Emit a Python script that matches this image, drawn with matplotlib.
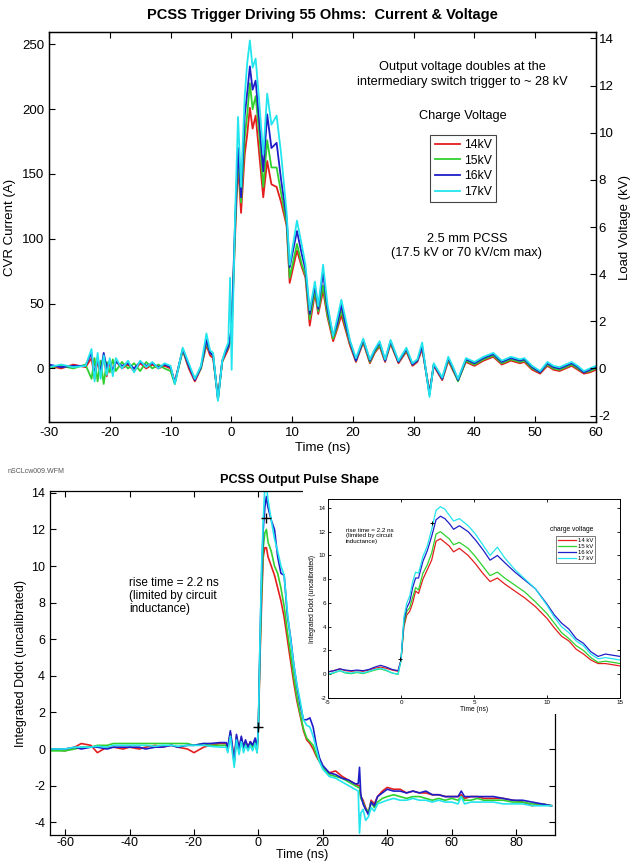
import matplotlib
matplotlib.use('Agg')
import matplotlib.pyplot as plt
from matplotlib.patches import Rectangle

plt.rcParams['font.family'] = ['Liberation Sans', 'DejaVu Sans']
plt.rcParams['axes.unicode_minus'] = False

# ------------------------------------------------------------------ data
labels_top = ['14kV', '15kV', '16kV', '17kV']
labels_inset = ['14 kV', '15 kV', '16 kV', '17 kV']
colors = ['#e31e1e', '#2fd12f', '#1e1ec8', '#22e5ee']

# top panel: CVR current (A) vs time (ns)
t_top = [-30, -28, -26, -24, -23, -22.5, -22, -21.5, -21, -20.5,
         -20, -19.5, -19, -18, -17, -16, -15, -14, -13, -12,
         -11, -10, -9.3, -8, -7, -6, -5, -4.1, -3.5, -3,
         -2.2, -1.5, -1, -0.5, -0.2, 0.05, 0.6, 1.1, 1.6, 2.2,
         2.6, 3.05, 3.5, 4.0, 4.6, 5.25, 5.9, 6.6, 7.45, 8.2,
         9.1, 9.6, 10.8, 11.6, 12.2, 12.9, 13.75, 14.3, 15.1, 15.8,
         16.75, 17.4, 18.1, 18.9, 19.5, 20.5, 21.7, 22.8, 23.6, 24.4,
         25.3, 26.2, 27.5, 28.8, 29.8, 30.6, 31.4, 32.6, 33.3, 34.7,
         35.7, 36.5, 37.3, 38.6, 40.0, 41.5, 43.1, 44.5, 46.0, 47.5,
         48.2, 49.5, 50.8, 52.0, 53.0, 54.0, 55.0, 56.0, 57.0, 58.0,
         59.0, 60.0]
cur_14 = [2, 0, 3, 1, 8, -8, 6, -5, 10, -6,
          5, -4, 6, 0, 3, -2, 4, 0, 3, 0,
          2, 0, -10, 14, 0, -10, 0, 18, 10, 8,
          -22, 5, 10, 15, 20, 28, 100, 158, 120, 165,
          180, 201, 185, 195, 165, 132, 160, 142, 140, 128,
          110, 66, 91, 78, 70, 33, 58, 42, 60, 40,
          21, 30, 41, 28, 18, 5, 20, 4, 12, 17,
          5, 19, 4, 13, 2, 5, 15, -18, 2, -9,
          6, -2, -9, 5, 2, 6, 9, 3, 6, 4,
          5, -1, -4, 2, -1, -2, 0, 2, -1, -4,
          -3, -1]
cur_15 = [1, 2, 0, 3, -8, 8, -10, 6, -12, 5,
          -3, 7, -2, 5, 0, 4, -2, 5, 0, 3,
          0, -2, -12, 14, 2, -8, 0, 20, 12, 10,
          -24, 5, 12, 16, 22, 30, 105, 165, 128, 178,
          195, 220, 200, 210, 180, 140, 176, 155, 155, 135,
          112, 70, 96, 80, 72, 38, 60, 44, 64, 42,
          23, 32, 45, 30, 20, 6, 21, 5, 13, 18,
          6, 20, 5, 14, 3, 6, 17, -20, 3, -8,
          7, -1, -10, 6, 3, 7, 10, 4, 7, 5,
          6, 0, -3, 3, 0, -1, 1, 3, 0, -3,
          -2, 0]
cur_16 = [3, 1, 2, 2, 12, -5, 8, -3, 12, 0,
          6, -2, 5, 2, 4, 0, 5, 2, 4, 1,
          3, 1, -11, 15, 2, -9, 1, 22, 12, 10,
          -24, 6, 12, 17, 24, 32, 110, 170, 132, 195,
          212, 233, 215, 222, 190, 152, 196, 170, 174, 145,
          116, 78, 106, 88, 76, 42, 64, 46, 74, 46,
          25, 34, 49, 32, 21, 6, 22, 6, 14, 20,
          6, 21, 5, 15, 3, 6, 17, -20, 3, -8,
          8, 0, -9, 7, 4, 8, 11, 5, 8, 6,
          7, 1, -3, 4, 1, 0, 2, 4, 1, -3,
          -1, 1]
cur_17 = [1, 3, 1, 2, 15, -10, 12, -8, 10, -5,
          8, -6, 8, 0, 6, -3, 6, 1, 5, 0,
          4, 2, -12, 16, 4, -8, 2, 27, 14, 12,
          -25, 6, 14, 20, 70, -1, 114, 194, 140, 210,
          235, 253, 232, 239, 205, 165, 212, 188, 195, 165,
          120, 80, 114, 95, 80, 45, 67, 48, 80, 50,
          25, 38, 53, 36, 22, 8, 23, 7, 15, 21,
          7, 22, 6, 16, 4, 7, 20, -22, 4, -7,
          9, 1, -8, 8, 5, 9, 12, 6, 9, 7,
          8, 2, -2, 5, 2, 1, 3, 5, 2, -2,
          0, 2]
load_ohms = 55.0  # right axis: kV = A * 55 / 1000

# bottom panel: integrated Ddot vs time (ns)
t_pulse = [-65, -60, -57, -55, -52, -50, -47, -45, -42, -40,
           -37, -35, -32, -30, -27, -25, -22, -20, -17, -15,
           -12, -10, -9.5, -8.7, -7.5, -6.8, -6.0, -5.3, -4.6, -4.0,
           -3.2, -2.5, -1.8, -1.0, -0.4, 0.0, 0.5, 1.0, 1.5, 2.0,
           2.5, 3.0, 4.0, 5.0, 6.0, 7.0, 8.0, 9.0, 10.0, 11.0,
           12.0, 13.0, 14.0, 15.0, 16.0, 17.0, 18.0, 19.0, 20.0, 22.0,
           24.0, 26.0, 28.0, 30.0, 31.0, 31.4, 31.8, 32.5, 33.3, 34.2,
           35.0, 36.0, 37.0, 38.5, 40.0, 42.0, 44.0, 46.0, 48.0, 50.0,
           52.0, 54.0, 56.0, 58.0, 60.0, 62.0, 63.0, 64.0, 66.0, 68.0,
           70.0, 73.0, 76.0, 79.0, 82.0, 85.0, 88.0, 91.0]
d_14 = [0.0, -0.1, 0.1, 0.3, 0.2, -0.2, 0.1, 0.1, 0.0, 0.1,
        0.0, 0.1, 0.2, 0.1, 0.2, 0.1, 0.0, -0.2, 0.1, 0.2,
        0.3, 0.3, 0.0, 0.9, -0.6, 0.7, 0.0, 0.6, 0.1, 0.4,
        0.1, 0.4, 0.2, 0.5, -0.1, 1.2, 5.0, 8.0, 10.5, 11.0,
        11.0, 10.5, 10.0, 9.5, 8.8, 8.1, 7.2, 6.0, 4.8, 3.6,
        2.6, 1.8, 1.0, 0.5, 0.3, 0.0, -0.4, -0.7, -1.0, -1.3,
        -1.2, -1.5, -1.7, -1.9, -2.0, -2.0, -2.6, -2.8, -3.2, -3.5,
        -2.8, -3.0, -2.6, -2.3, -2.1, -2.2, -2.2, -2.4, -2.3, -2.4,
        -2.4, -2.5, -2.5, -2.6, -2.6, -2.6, -2.5, -2.7, -2.6, -2.6,
        -2.7, -2.7, -2.7, -2.8, -2.9, -3.1, -3.0, -3.1]
d_15 = [-0.1, -0.1, 0.0, 0.1, 0.1, 0.2, 0.2, 0.3, 0.3, 0.3,
        0.3, 0.3, 0.3, 0.3, 0.3, 0.3, 0.3, 0.2, 0.3, 0.2,
        0.2, 0.2, -0.1, 0.8, -0.8, 0.6, -0.2, 0.5, -0.1, 0.3,
        0.0, 0.3, 0.0, 0.4, -0.2, 1.2, 5.3, 8.5, 11.0, 11.8,
        12.0, 11.3, 10.8, 10.0, 9.6, 8.8, 7.8, 6.4, 5.2, 3.9,
        2.8, 1.9, 1.1, 0.6, 0.4, 0.2, -0.3, -0.7, -1.0, -1.4,
        -1.5, -1.6, -1.8, -2.0, -2.1, -2.1, -2.7, -2.9, -3.3, -3.4,
        -2.9, -3.2, -2.9, -2.7, -2.6, -2.5, -2.6, -2.7, -2.6, -2.6,
        -2.7, -2.8, -2.7, -2.8, -2.7, -2.8, -2.6, -2.8, -2.8, -2.7,
        -2.8, -2.8, -2.8, -2.9, -2.9, -3.0, -3.0, -3.1]
d_16 = [0.0, 0.0, 0.1, 0.0, 0.1, 0.1, 0.0, 0.1, 0.1, 0.1,
        0.1, 0.0, 0.1, 0.1, 0.2, 0.1, 0.2, 0.2, 0.3, 0.3,
        0.35, 0.35, 0.1, 1.0, -0.7, 0.8, 0.0, 0.7, 0.1, 0.5,
        0.1, 0.4, 0.2, 0.6, 0.1, 1.2, 5.8, 9.5, 12.0, 13.2,
        13.8, 13.2, 12.5, 12.0, 10.5, 9.6, 9.5, 7.3, 6.1, 4.6,
        3.4, 2.4, 1.6, 1.6, 1.7, 1.2, 0.2, -0.5, -0.9, -1.3,
        -1.4, -1.6, -1.7, -1.9, -1.9, -1.0, -2.5, -3.0, -3.3, -3.6,
        -2.9, -3.1, -2.6, -2.4, -2.2, -2.3, -2.3, -2.4, -2.3, -2.4,
        -2.3, -2.5, -2.5, -2.6, -2.6, -2.6, -2.3, -2.6, -2.6, -2.6,
        -2.6, -2.6, -2.7, -2.8, -2.8, -2.9, -3.0, -3.1]
d_17 = [0.0, 0.0, 0.1, 0.1, 0.1, 0.15, 0.1, 0.2, 0.2, 0.2,
        0.2, 0.2, 0.15, 0.2, 0.2, 0.15, 0.2, 0.2, 0.2, 0.15,
        0.1, 0.1, -0.2, 0.7, -1.0, 0.5, -0.3, 0.4, -0.2, 0.2,
        -0.1, 0.2, -0.1, 0.3, -0.2, 1.2, 6.0, 10.0, 12.5, 14.3,
        14.4, 13.6, 12.5, 11.5, 10.8, 10.0, 9.5, 7.5, 6.0, 4.6,
        3.5, 2.6, 1.6, 1.3, 1.2, 0.7, 0.0, -0.7, -1.1, -1.5,
        -1.6, -1.8, -2.0, -2.2, -2.3, -4.6, -3.5, -3.3, -3.9, -3.7,
        -3.2, -3.4, -3.0, -2.9, -2.8, -2.7, -2.8, -2.8, -2.7, -2.8,
        -2.8, -2.9, -2.8, -2.9, -2.9, -3.0, -2.6, -3.0, -2.9, -2.9,
        -2.9, -2.9, -3.0, -3.0, -3.0, -3.1, -3.1, -3.1]
rise_marks_t = [0.0, 2.4]
rise_marks_v = [1.22, 12.6]

# inset: zoom of the pulse
t_inset = [-5, -4.6, -4.2, -3.8, -3.4, -3.0, -2.6, -2.2, -1.8, -1.4,
           -1.0, -0.6, -0.2, 0.0, 0.2, 0.4, 0.6, 0.8, 1.0, 1.2,
           1.5, 1.8, 2.1, 2.4, 2.7, 3.0, 3.3, 3.6, 4.0, 4.6,
           5.1, 5.6, 6.1, 6.6, 7.1, 7.8, 8.5, 9.2, 10.0, 10.5,
           11.0, 11.5, 12.0, 12.5, 13.0, 13.5, 14.0, 14.5, 15.0]
i_14 = [0.2, 0.3, 0.45, 0.3, 0.25, 0.3, 0.25, 0.35, 0.5, 0.6,
        0.5, 0.35, 0.25, 1.2, 4.0, 5.0, 5.3, 6.0, 7.0, 6.8,
        8.0, 8.8, 9.6, 11.2, 11.4, 11.1, 10.8, 10.3, 10.6, 10.0,
        9.3, 8.5, 7.8, 8.1, 7.6, 7.0, 6.4, 5.7, 4.7, 3.9,
        3.2, 2.8, 2.1, 1.7, 1.2, 0.9, 0.9, 0.8, 0.7]
i_15 = [0.0, 0.1, 0.3, 0.1, 0.05, 0.15, 0.05, 0.2, 0.35, 0.45,
        0.3, 0.1, 0.0, 1.2, 4.2, 5.3, 5.6, 6.5, 7.3, 7.1,
        8.5, 9.2, 10.2, 11.8, 12.0, 11.7, 11.4, 10.9, 11.1, 10.6,
        9.9, 9.1, 8.3, 8.6, 8.1, 7.5, 6.9, 6.1, 5.1, 4.3,
        3.5, 3.0, 2.4, 2.0, 1.4, 1.0, 1.1, 1.0, 0.9]
i_16 = [0.2, 0.3, 0.45, 0.35, 0.3, 0.35, 0.3, 0.4, 0.6, 0.75,
        0.6, 0.4, 0.3, 1.2, 4.5, 5.6, 6.1, 7.3, 8.1, 8.1,
        9.5, 10.4, 11.6, 13.0, 13.3, 13.1, 12.7, 12.2, 12.5, 12.0,
        11.3, 10.5, 9.6, 10.0, 9.4, 8.6, 7.9, 7.2, 5.9, 5.0,
        4.3, 3.8, 3.0, 2.6, 1.9, 1.5, 1.7, 1.6, 1.5]
i_17 = [0.0, 0.15, 0.3, 0.15, 0.1, 0.2, 0.1, 0.25, 0.4, 0.5,
        0.35, 0.1, 0.0, 1.2, 4.8, 6.0, 6.6, 7.8, 8.6, 8.5,
        9.9, 10.8, 12.2, 13.8, 14.1, 13.9, 13.4, 12.9, 13.1, 12.5,
        11.8, 10.9, 10.0, 10.7, 9.8, 8.8, 8.0, 7.2, 5.8, 4.8,
        4.0, 3.5, 2.8, 2.4, 1.7, 1.3, 1.4, 1.3, 1.2]
inset_marks_t = [-0.1, 2.1]
inset_marks_v = [1.3, 12.7]

# ------------------------------------------------------------------ figure
W, H = 630, 863
fig = plt.figure(figsize=(W / 100, H / 100), dpi=100)


def fx(px):
    return px / W


def fy(py):
    return 1 - py / H


# ---------------- top panel
ax1 = fig.add_axes([fx(49), fy(422), fx(547), 390 / H])
for ys, c, lab in zip([cur_14, cur_15, cur_16, cur_17], colors, labels_top):
    ax1.plot(t_top, ys, color=c, lw=1.3, label=lab)
ylo, yhi = -41.3, 259.5
ax1.set_xlim(-30, 60)
ax1.set_ylim(ylo, yhi)
ax1.set_xticks(range(-30, 61, 10))
ax1.set_yticks(range(0, 251, 50))
ax1.tick_params(direction='in', top=True, length=4, labelsize=9.5, width=0.8)
ax1.set_xlabel('Time (ns)', fontsize=9.5, labelpad=2)
ax1.set_ylabel('CVR Current (A)', fontsize=9.5, labelpad=4)
ax1r = ax1.twinx()
ax1r.set_ylim(ylo * load_ohms / 1000, yhi * load_ohms / 1000)
ax1r.set_yticks(range(-2, 15, 2))
ax1r.tick_params(direction='in', length=4, labelsize=9.5, width=0.8, pad=2)
ax1r.set_ylabel('Load Voltage (kV)', fontsize=9.5, labelpad=4)
for a in (ax1, ax1r):
    for s in a.spines.values():
        s.set_linewidth(0.9)

fig.text(fx(322), fy(15.5), 'PCSS Trigger Driving 55 Ohms:  Current & Voltage',
         ha='center', va='center', fontsize=10.5, weight='bold')
ax1.text(0.755, 0.891, 'Output voltage doubles at the\nintermediary switch trigger to ~ 28 kV',
         transform=ax1.transAxes, ha='center', va='center', fontsize=9.2, linespacing=1.25)
ax1.text(0.757, 0.785, 'Charge Voltage', transform=ax1.transAxes,
         ha='center', va='center', fontsize=9.2)
leg = ax1.legend(loc='upper left', bbox_to_anchor=(0.697, 0.737), fontsize=8.8,
                 frameon=True, fancybox=False, edgecolor='#444444', framealpha=1,
                 handlelength=2.1, handletextpad=0.3, borderpad=0.35,
                 labelspacing=0.3, borderaxespad=0)
leg.get_frame().set_linewidth(0.8)
ax1.text(0.764, 0.451, '2.5 mm PCSS\n(17.5 kV or 70 kV/cm max)', transform=ax1.transAxes,
         ha='center', va='center', fontsize=9.2, linespacing=1.2)

# ---------------- bottom panel
fig.text(fx(8), fy(471), 'nSCLcw009.WFM', ha='left', va='center', fontsize=5, color='#555555')
fig.text(fx(300), fy(480), 'PCSS Output Pulse Shape', ha='center', va='center',
         fontsize=9.2, weight='bold')
ax2 = fig.add_axes([fx(50), fy(835), fx(505), 344 / H])
for ys, c in zip([d_14, d_15, d_16, d_17], colors):
    ax2.plot(t_pulse, ys, color=c, lw=1.2)
ax2.plot(rise_marks_t, rise_marks_v, ls='none', marker='+', color='black', ms=7, mew=1)
ax2.set_xlim(-64.7, 92.1)
ax2.set_ylim(-4.7, 14.1)
ax2.set_xticks(range(-60, 81, 20))
ax2.set_yticks(range(-4, 15, 2))
ax2.tick_params(direction='in', top=True, right=True, length=4, labelsize=9, width=0.8)
ax2.tick_params(axis='x', pad=1.5)
ax2.set_xlabel('Time (ns)', fontsize=9, labelpad=0)
ax2.set_ylabel('Integrated Ddot (uncalibrated)', fontsize=9, labelpad=3)
for s in ax2.spines.values():
    s.set_linewidth(0.9)
ax2.text(0.156, 0.75, 'rise time = 2.2 ns\n(limited by circuit\ninductance)',
         transform=ax2.transAxes, ha='left', va='top', fontsize=8.5, linespacing=1.1)

# white panel behind the inset
fig.add_artist(Rectangle((fx(303), fy(714)), fx(327), (714 - 485) / H,
                         transform=fig.transFigure, facecolor='white',
                         edgecolor='none', zorder=5))

# ---------------- inset
ax3 = fig.add_axes([fx(328), fy(698), fx(292), 199 / H])
ax3.set_zorder(10)
for ys, c, lab in zip([i_14, i_15, i_16, i_17], colors, labels_inset):
    ax3.plot(t_inset, ys, color=c, lw=0.9, label=lab)
ax3.plot(inset_marks_t, inset_marks_v, ls='none', marker='+', color='black', ms=3.5, mew=0.7)
ax3.set_xlim(-5, 15)
ax3.set_ylim(-2, 14.75)
ax3.set_xticks([-5, 0, 5, 10, 15])
ax3.set_yticks(range(-2, 15, 2))
ax3.tick_params(direction='in', top=True, right=True, length=2.5, labelsize=4.5,
                width=0.6, pad=1.5)
ax3.set_xlabel('Time (ns)', fontsize=4.8, labelpad=1)
ax3.set_ylabel('Integrated Ddot (uncalibrated)', fontsize=4.8, labelpad=2)
for s in ax3.spines.values():
    s.set_linewidth(0.7)
fig.text(fx(472), fy(492), 'PCSS Output Pulse Shape', ha='center', va='center',
         fontsize=5.6, weight='bold')
ax3.text(0.062, 0.855, 'rise time = 2.2 ns\n(limited by circuit\ninductance)',
         transform=ax3.transAxes, ha='left', va='top', fontsize=4.5, linespacing=1.1)
ax3.text(0.836, 0.849, 'charge voltage', transform=ax3.transAxes,
         ha='center', va='center', fontsize=4.8)
leg3 = ax3.legend(loc='upper left', bbox_to_anchor=(0.781, 0.814), fontsize=4.3,
                  frameon=True, fancybox=False, edgecolor='#444444', framealpha=1,
                  handlelength=3.0, handletextpad=0.4, borderpad=0.3,
                  labelspacing=0.15, borderaxespad=0)
leg3.get_frame().set_linewidth(0.5)

fig.savefig('out.png', dpi=100)
